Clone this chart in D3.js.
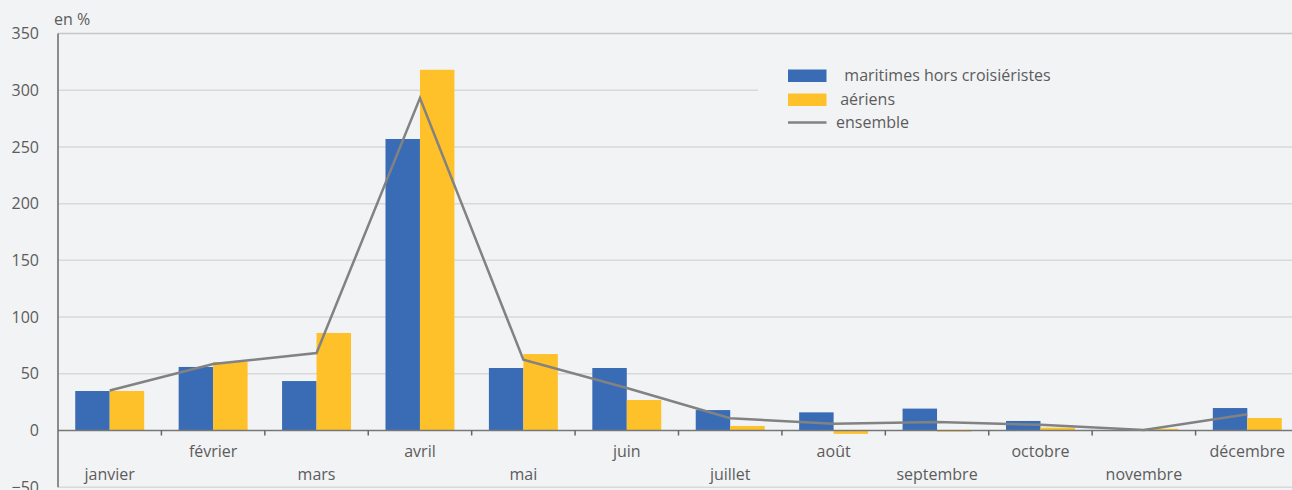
<!DOCTYPE html>
<html>
<head>
<meta charset="utf-8">
<script src="https://cdn.jsdelivr.net/npm/d3@7/dist/d3.min.js"></script>
<style>
    body { margin: 0; background: #f2f3f5; }
    svg { display: block; font-family: "Open Sans", sans-serif; }
</style>
</head>
<body>
<svg js-sel="chart" width="1292" height="490"></svg>
<script>
const months = ['janvier', 'février', 'mars', 'avril', 'mai', 'juin',
    'juillet', 'août', 'septembre', 'octobre', 'novembre', 'décembre'];
const maritimes = [34.8, 56, 43.6, 257, 55.1, 55.1, 18, 16, 19.3, 8.4, 0, 19.8];
const aeriens = [34.8, 60.4, 86, 318, 67.4, 26.9, 4, -3, -1, 2.5, 1.5, 11];
const ensemble = [35.3, 58.6, 68.3, 293, 62.3, 37.5, 10.8, 6, 7.5, 5, 0.5, 14.3];
const y_ticks = [-50, 0, 50, 100, 150, 200, 250, 300, 350];
const legend_labels = ['  maritimes hors croisiéristes', ' aériens', 'ensemble'];

const blue = '#3a6cb5';
const yellow = '#fec12a';
const grey_line = '#828282';
const text_color = '#5c5c5c';
const font_size = 16;

function render() {
    const svg = d3.select('[js-sel="chart"]');
    const width = 1292;
    const left = 58;

    const y = d3.scaleLinear().domain([-50, 350]).range([487.2, 33.5]);
    const x0 = d3.scaleBand()
        .domain(months)
        .range([left, 1299])
        .paddingInner(1 / 3)
        .paddingOuter(1 / 6);
    const series = ['maritimes', 'aeriens'];
    const x1 = d3.scaleBand().domain(series).range([0, x0.bandwidth()]);
    const step = x0.step();

    // gridlines
    svg.append('g')
        .selectAll('line')
        .data(y_ticks.filter(d => d !== 0))
        .join('line')
        .attr('x1', left)
        .attr('x2', width)
        .attr('y1', d => y(d))
        .attr('y2', d => y(d))
        .attr('stroke', d => d === 350 ? '#c6c6c6' : '#d9d9d9')
        .attr('stroke-width', 1.5);

    // y labels
    svg.append('g')
        .attr('transform', `translate(${left},0)`)
        .call(d3.axisLeft(y).tickValues(y_ticks).tickSize(0).tickPadding(19))
        .call(g => g.select('.domain').remove())
        .call(g => g.selectAll('text')
            .attr('fill', text_color)
            .attr('font-size', font_size)
            .attr('font-family', '"Open Sans", sans-serif'));

    svg.append('text')
        .attr('x', 54)
        .attr('y', 25)
        .attr('fill', text_color)
        .attr('font-size', font_size)
        .text('en %');

    // bars
    const rows = months.map((m, i) => ({ m, maritimes: maritimes[i], aeriens: aeriens[i] }));
    const colors = { maritimes: blue, aeriens: yellow };
    svg.append('g')
        .selectAll('g')
        .data(rows)
        .join('g')
        .attr('transform', d => `translate(${x0(d.m)},0)`)
        .selectAll('rect')
        .data(d => series.map(s => ({ s, v: d[s] })))
        .join('rect')
        .attr('x', d => x1(d.s))
        .attr('width', x1.bandwidth())
        .attr('y', d => y(Math.max(0, d.v)))
        .attr('height', d => Math.abs(y(d.v) - y(0)))
        .attr('fill', d => colors[d.s]);

    // zero axis + ticks at band boundaries
    svg.append('line')
        .attr('x1', left).attr('x2', width)
        .attr('y1', y(0)).attr('y2', y(0))
        .attr('stroke', '#777').attr('stroke-width', 1.5);
    svg.append('g')
        .selectAll('line')
        .data(d3.range(1, months.length))
        .join('line')
        .attr('x1', i => left + i * step)
        .attr('x2', i => left + i * step)
        .attr('y1', y(0))
        .attr('y2', y(0) + 5)
        .attr('stroke', '#666')
        .attr('stroke-width', 1.5);

    svg.append('line')
        .attr('x1', left).attr('x2', left)
        .attr('y1', y(350)).attr('y2', y(-50))
        .attr('stroke', '#6a6a6a').attr('stroke-width', 1.5);

    // month labels, staggered
    svg.append('g')
        .selectAll('text')
        .data(months)
        .join('text')
        .attr('x', d => x0(d) + x0.bandwidth() / 2)
        .attr('y', (d, i) => i % 2 === 0 ? 480 : 457)
        .attr('text-anchor', 'middle')
        .attr('fill', text_color)
        .attr('font-size', font_size)
        .text(d => d);

    // ensemble line
    svg.append('path')
        .datum(ensemble)
        .attr('fill', 'none')
        .attr('stroke', grey_line)
        .attr('stroke-width', 2.5)
        .attr('d', d3.line()
            .x((d, i) => x0(months[i]) + x0.bandwidth() / 2)
            .y(d => y(d)));

    // legend
    const lg = svg.append('g');
    lg.append('rect')
        .attr('x', 758).attr('y', 45)
        .attr('width', width - 758).attr('height', 92)
        .attr('fill', '#f2f3f5');
    lg.append('rect').attr('x', 788).attr('y', 69.5).attr('width', 38.5).attr('height', 12.5).attr('fill', blue);
    lg.append('rect').attr('x', 788).attr('y', 93.5).attr('width', 38.5).attr('height', 12.5).attr('fill', yellow);
    lg.append('line').attr('x1', 788).attr('x2', 826.5).attr('y1', 122.5).attr('y2', 122.5)
        .attr('stroke', grey_line).attr('stroke-width', 2.5);
    const legend_y = [75.5, 99.5, 122];
    lg.selectAll('text.lbl')
        .data(legend_labels)
        .join('text')
        .attr('class', 'lbl')
        .attr('x', 836)
        .attr('y', (d, i) => legend_y[i])
        .attr('dy', '0.35em')
        .attr('fill', text_color)
        .attr('font-size', font_size)
        .attr('xml:space', 'preserve')
        .style('white-space', 'pre')
        .text(d => d);
}

render();
</script>
</body>
</html>
